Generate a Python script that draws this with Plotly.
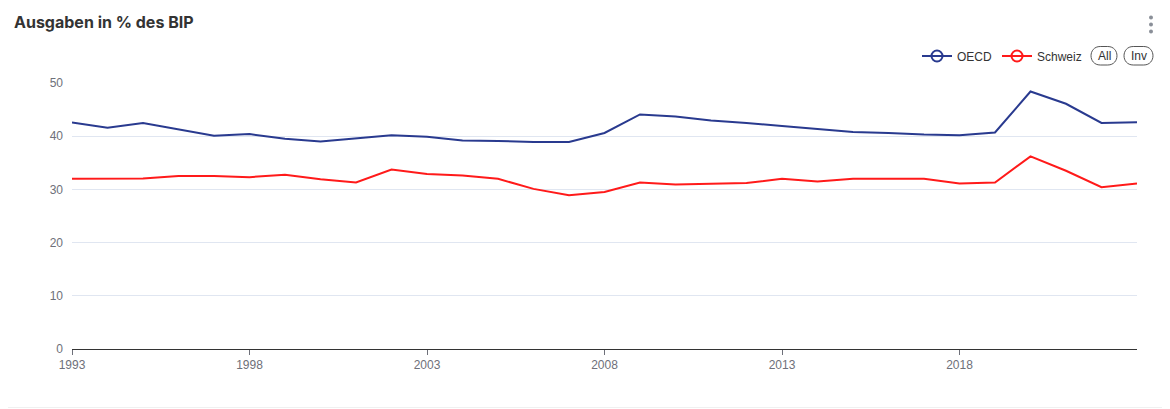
import plotly.graph_objects as go

years = list(range(1993, 2024))
oecd = [42.6, 41.6, 42.5, 41.3, 40.1, 40.4, 39.5, 39.0, 39.55, 40.2,
        39.9, 39.2, 39.1, 38.9, 38.9, 40.6, 44.1, 43.7, 42.95, 42.5,
        41.9, 41.4, 40.8, 40.6, 40.3, 40.2, 40.7, 48.4, 46.1, 42.5, 42.6]
schweiz = [32.0, 32.0, 32.05, 32.5, 32.5, 32.3, 32.75, 31.9, 31.3, 33.75,
           32.9, 32.6, 32.0, 30.1, 28.9, 29.5, 31.3, 30.9, 31.0, 31.2,
           32.0, 31.5, 32.0, 32.0, 32.0, 31.1, 31.3, 36.2, 33.5, 30.4, 31.1]
series_names = ["OECD", "Schweiz"]
series_colors = ["#293a8f", "#ff1a1a"]
x_ticks = [1993, 1998, 2003, 2008, 2013, 2018]
y_ticks = [0, 10, 20, 30, 40, 50]
title = "Ausgaben in % des BIP"

# page body has an 8px margin: figure placed at (8, 8)
O = 8
W, H = 1170 - O, 409 - O
# plot area in page pixels: x 72..1137, y 83..349
L, R, T, B = 72 - O, 1170 - 1137, 83 - O, 409 - 349
PW, PH = W - L - R, H - T - B

def px(x):
    return (x - O - L) / PW

def py(y):
    return (349 - y) / PH

fig = go.Figure()
for name, vals, col in zip(series_names, [oecd, schweiz], series_colors):
    fig.add_trace(go.Scatter(x=years, y=vals, mode="lines", name=name,
                             line=dict(color=col, width=2), showlegend=False,
                             hoverinfo="x+y"))
    fig.add_trace(go.Scatter(x=[None], y=[None], mode="lines+markers", name=name,
                             line=dict(color=col, width=2),
                             marker=dict(symbol="circle-open", size=11,
                                         line=dict(width=2, color=col), color=col)))

shapes = []

def pill(x0, x1, y0, y1):
    r = (y1 - y0) / 2
    p = (f"M {px(x0 + r)},{py(y0)} L {px(x1 - r)},{py(y0)} "
         f"C {px(x1 + r*0.33)},{py(y0)} {px(x1 + r*0.33)},{py(y1)} {px(x1 - r)},{py(y1)} "
         f"L {px(x0 + r)},{py(y1)} "
         f"C {px(x0 - r*0.33)},{py(y1)} {px(x0 - r*0.33)},{py(y0)} {px(x0 + r)},{py(y0)} Z")
    return dict(type="path", xref="paper", yref="paper", path=p,
                line=dict(color="#555", width=1), fillcolor="rgba(0,0,0,0)")

shapes.append(pill(1091, 1117, 46.5, 65))
shapes.append(pill(1124, 1153, 46.5, 65))
for yy in (17.5, 24.5, 31.5):
    shapes.append(dict(type="circle", xref="paper", yref="paper",
                       x0=px(1149), x1=px(1153), y0=py(yy - 2), y1=py(yy + 2),
                       fillcolor="#8a8f98", line=dict(width=0)))
shapes.append(dict(type="line", xref="paper", yref="paper", x0=px(O), x1=px(1170),
                   y0=py(407.5), y1=py(407.5), line=dict(color="#f0f0f0", width=1)))

annotations = [
    dict(text="<b>" + title + "</b>", xref="paper", yref="paper", x=px(12), y=py(22),
         xanchor="left", yanchor="middle", showarrow=False,
         font=dict(family="Inter, Roboto, sans-serif", size=16, color="#333333")),
    dict(text="All", xref="paper", yref="paper", x=px(1104), y=py(56),
         xanchor="center", yanchor="middle", showarrow=False,
         font=dict(family="Liberation Sans, Arial, sans-serif", size=12, color="#333")),
    dict(text="Inv", xref="paper", yref="paper", x=px(1138.5), y=py(56),
         xanchor="center", yanchor="middle", showarrow=False,
         font=dict(family="Liberation Sans, Arial, sans-serif", size=12, color="#333")),
]

fig.update_layout(
    width=W, height=H,
    margin=dict(l=L, r=R, t=T, b=B, autoexpand=False),
    paper_bgcolor="white", plot_bgcolor="white",
    font=dict(family="Liberation Sans, Arial, sans-serif", size=12, color="#6e7079"),
    showlegend=True,
    legend=dict(orientation="h", xanchor="left", yanchor="middle",
                x=px(917), y=py(56), bgcolor="rgba(0,0,0,0)",
                font=dict(size=12, color="#333333"), itemwidth=30,
                tracegroupgap=0),
    shapes=shapes, annotations=annotations,
    xaxis=dict(range=[1993, 2023], tickmode="array", tickvals=x_ticks,
               ticktext=[str(t) for t in x_ticks], showgrid=False, zeroline=False,
               showline=True, linecolor="#333333", linewidth=1,
               ticks="outside", ticklen=5, tickcolor="#6e7079",
               tickfont=dict(size=12, color="#6e7079")),
    yaxis=dict(range=[0, 50], tickmode="array", tickvals=y_ticks,
               showgrid=True, gridcolor="#e0e6f1", gridwidth=1, zeroline=False,
               showline=False, ticks="", ticklabelstandoff=8,
               tickfont=dict(size=12, color="#6e7079")),
)

fig.write_html("out.html")
